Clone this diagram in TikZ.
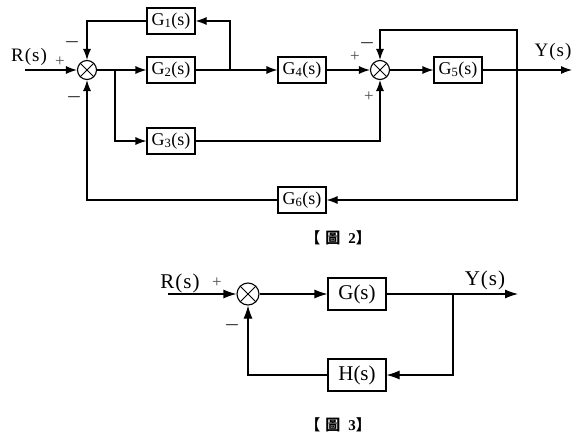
\documentclass[tikz,border=0pt]{standalone}
\usepackage{fontspec}
\setmainfont{Liberation Serif}
\newfontfamily\cjkfont{Noto Sans CJK TC}
\usetikzlibrary{arrows.meta,positioning,calc}
\newcommand{\figcap}[1]{{\cjkfont\bfseries 【}\hspace{5pt}{\cjkfont\bfseries 圖}\hspace{8pt}\textbf{#1}{\cjkfont\bfseries 】}}

\begin{document}
\begin{tikzpicture}[x=1pt,y=-1pt,>={Latex[length=11pt,width=8pt]},line width=1.1pt,
  block/.style={draw,minimum width=48pt,minimum height=26pt,inner sep=0pt,font=\fontsize{18}{18}\selectfont},
  bigblock/.style={block,minimum width=58pt,minimum height=32pt,font=\fontsize{21}{21}\selectfont},
  sum/.style={draw,circle,minimum size=19pt,inner sep=0pt,
    path picture={\draw[line width=0.9pt] (path picture bounding box.south west) -- (path picture bounding box.north east)
      (path picture bounding box.north west) -- (path picture bounding box.south east);}},
  bigsum/.style={sum,minimum size=22pt},
  plus/.style={inner sep=0pt,font=\fontsize{17}{17}\selectfont,text=black!70},
  minus/.style={inner sep=0pt,font=\fontsize{16}{16}\selectfont\boldmath,text=black!85},
  signal/.style={inner sep=0pt,font=\fontsize{19}{19}\selectfont},
  caption/.style={inner sep=0pt,font=\fontsize{15}{15}\selectfont}]
\useasboundingbox (0,0) rectangle (585,444);

% figure 2
\node[sum] (s_1) at (87,70) {};
\node[sum] (s_2) at (380,70) {};
\node[block] (g_1) at (171,21) {G\textsubscript{1}(s)};
\node[block] (g_2) at (171,70) {G\textsubscript{2}(s)};
\node[block] (g_3) at (171,141) {G\textsubscript{3}(s)};
\node[block] (g_4) at (302,70) {G\textsubscript{4}(s)};
\node[block] (g_5) at (458,70) {G\textsubscript{5}(s)};
\node[block] (g_6) at (302,200) {G\textsubscript{6}(s)};
\coordinate (r_in) at (25,70);
\coordinate (y_out) at (572,70);
\coordinate (b_1) at (115,70);
\coordinate (b_2) at (230,70);
\coordinate (b_3) at (517,70);
\coordinate (t_3) at (517,30);
\node[signal] (r_lab) at (29,57) {R\kern1pt(\kern1pt s\kern1pt)};
\node[signal] (y_lab) at (553,52) {Y\kern1pt(\kern1pt s\kern1pt)};
\node[plus] at (60,62) {+};
\node[minus] at (72,42) {$-$};
\node[minus] at (74,97) {$-$};
\node[plus] at (355,57) {+};
\node[minus] at (367,43) {$-$};
\node[plus] at (369,97) {+};
\draw[->] (r_in) -- (s_1);
\draw[->] (s_1) -- (g_2);
\draw[->] (b_1) |- (g_3);
\draw[->] (g_2) -- (g_4);
\draw[->] (b_2) |- (g_1);
\draw[->] (g_1) -| (s_1);
\draw[->] (g_4) -- (s_2);
\draw[->] (s_2) -- (g_5);
\draw[->] (g_5) -- (y_out);
\draw[->] (b_3) -- (t_3) -| (s_2);
\draw[->] (b_3) |- (g_6);
\draw[->] (g_6) -| (s_1);
\draw[->] (g_3) -| (s_2);
\node[caption] (cap_2) at (338,238) {\figcap{2}};

% figure 3
\begin{scope}[>={Latex[length=13pt,width=9pt]}]
\node[bigsum] (s_3) at (248,294) {};
\node[bigblock] (g) at (357,294) {G(s)};
\node[bigblock] (h) at (357,375) {H(s)};
\coordinate (r_in3) at (168,294);
\coordinate (y_out3) at (518,294);
\coordinate (b_4) at (453,294);
\node[signal,font=\fontsize{21}{21}\selectfont] (r_lab3) at (180,283) {R\kern1pt(\kern1pt s\kern1pt)};
\node[signal,font=\fontsize{21}{21}\selectfont] (y_lab3) at (485,280) {Y\kern1pt(\kern1pt s\kern1pt)};
\node[plus] at (217,283) {+};
\node[minus] at (232,325) {$-$};
\draw[->] (r_in3) -- (s_3);
\draw[->] (s_3) -- (g);
\draw[->] (g) -- (y_out3);
\draw[->] (b_4) |- (h);
\draw[->] (h) -| (s_3);
\end{scope}
\node[caption] (cap_3) at (338,425) {\figcap{3}};
\end{tikzpicture}
\end{document}
